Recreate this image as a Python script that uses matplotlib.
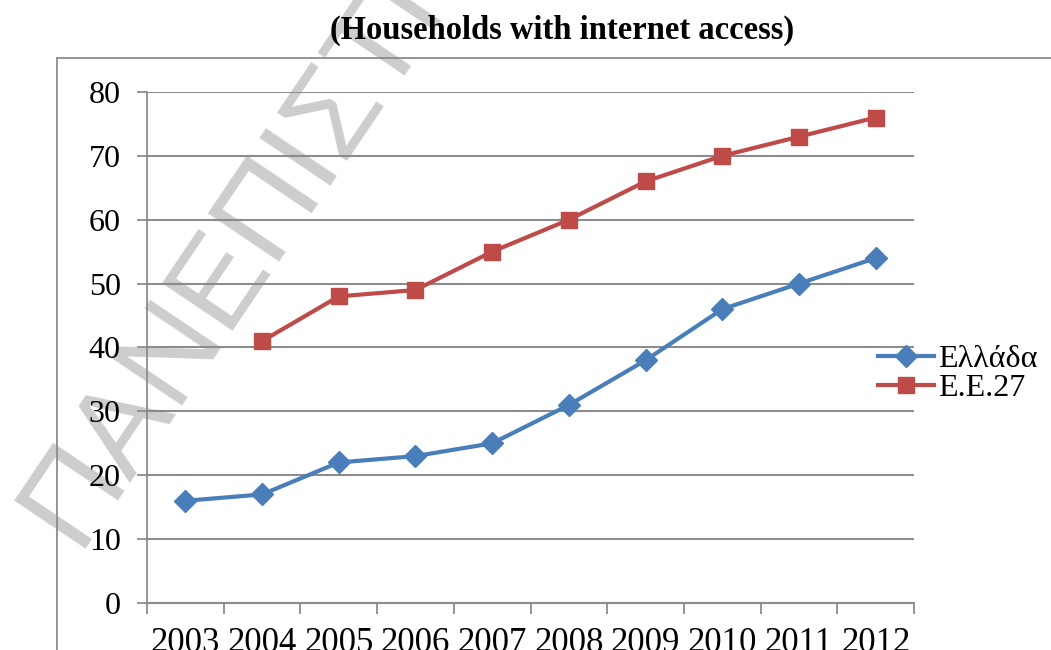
import matplotlib.pyplot as plt
from matplotlib.patches import Rectangle

# data
years = ['2003', '2004', '2005', '2006', '2007', '2008', '2009', '2010', '2011', '2012']
greece = [16, 17, 22, 23, 25, 31, 38, 46, 50, 54]
eu27 = [None, 41, 48, 49, 55, 60, 66, 70, 73, 76]
yticks = [0, 10, 20, 30, 40, 50, 60, 70, 80]

serif = ['Liberation Serif', 'DejaVu Serif']

fig = plt.figure(figsize=(10.51, 6.5), dpi=100)
ax = fig.add_axes([0.1399, 0.0723, 0.7298, 0.7862])
ax.set_facecolor('none')

# watermark behind everything
fig.text(76 / 1051, 1 - 548 / 650, 'ΠΑΝΕΠΙΣΤΗΜΙΟ', rotation=56, fontsize=90,
         family=['Liberation Sans', 'DejaVu Sans'], color='#cdcdcd',
         ha='left', va='baseline', rotation_mode='anchor', zorder=-5)

# chart frame
fig.patches.append(Rectangle((57 / 1051, -0.1), 1.2, 0.1 + 592 / 650,
                             transform=fig.transFigure, fill=False,
                             edgecolor='#8c8c8c', linewidth=1.3, zorder=-4))

x = list(range(len(years)))
eu_x = [i for i, v in zip(x, eu27) if v is not None]
eu_y = [v for v in eu27 if v is not None]

ax.plot(x, greece, color='#4A7EBB', linewidth=3, marker='D', markersize=11,
        label='Ελλάδα', zorder=3)
ax.plot(eu_x, eu_y, color='#BE4B48', linewidth=3, marker='s', markersize=12,
        label='Ε.Ε.27', zorder=3)

ax.set_xlim(-0.5, len(years) - 0.5)
ax.set_ylim(0, 80)
ax.set_yticks(yticks)
ax.set_yticklabels([str(v) for v in yticks], family=serif, fontsize=23)
ax.yaxis.grid(True, color='#8c8c8c', linewidth=1.5)
ax.set_axisbelow(True)

ax.set_xticks([i - 0.5 for i in range(len(years) + 1)])
ax.set_xticklabels([])
ax.set_xticks(x, minor=True)
ax.set_xticklabels(years, minor=True, family=serif, fontsize=25)
ax.tick_params(axis='x', which='major', length=8, color='#8c8c8c', width=1.3)
ax.tick_params(axis='x', which='minor', length=0, pad=17)
ax.tick_params(axis='y', length=7, color='#8c8c8c', width=1.3, pad=12)

for s in ['top', 'right']:
    ax.spines[s].set_visible(False)
ax.spines['left'].set_color('#8c8c8c')
ax.spines['bottom'].set_color('#8c8c8c')
ax.spines['left'].set_linewidth(1.3)
ax.spines['bottom'].set_linewidth(1.5)

fig.legend(loc='center left', bbox_to_anchor=(878 / 1051, 1 - 374 / 650),
           bbox_transform=fig.transFigure, frameon=False,
           prop={'family': serif, 'size': 23}, handlelength=1.75,
           handletextpad=0.12, labelspacing=0.0, borderaxespad=0,
           borderpad=0)

fig.text(562 / 1051, 1 - 30 / 650, '(Households with internet access)',
         ha='center', va='center', family=serif, fontsize=23.5,
         fontweight='bold')

fig.savefig('out.png', dpi=100)
